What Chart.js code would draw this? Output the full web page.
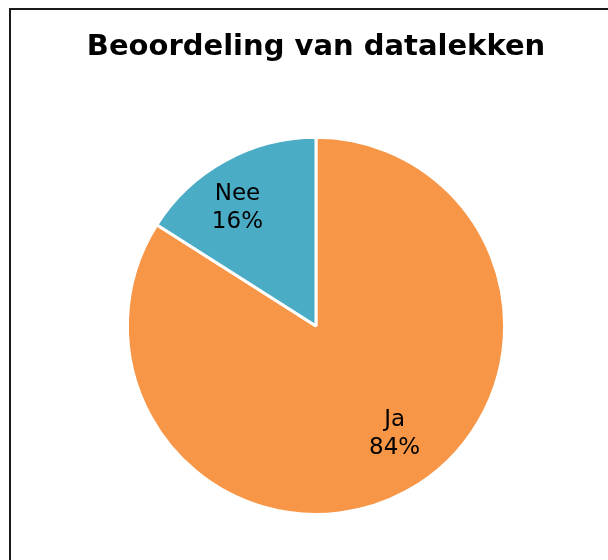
<!DOCTYPE html>
<html>
<head>
<meta charset="utf-8">
<script src="https://cdn.jsdelivr.net/npm/chart.js@4.4.1/dist/chart.umd.min.js"></script>
<style>
  html, body { margin: 0; padding: 0; background: #fff; overflow: hidden; }
  #frame {
    position: absolute; left: 9px; top: 8px;
    width: 700px; height: 700px;
    border: 2px solid #1a1a1a;
    box-sizing: border-box;
  }
  #wrap { position: absolute; left: 0; top: 0; width: 608px; height: 560px; }
</style>
</head>
<body>
<div id="frame"></div>
<div id="wrap"><canvas id="chart" width="608" height="560"></canvas></div>
<script>
const categories = ["Ja", "Nee"];
const percentages = [84, 16];
const sliceColors = ["#F79646", "#4BACC6"];

// draws "Naam\nxx%" inside each slice
const sliceLabels = {
  id: "sliceLabels",
  afterDatasetsDraw(chart) {
    const ctx = chart.ctx;
    const meta = chart.getDatasetMeta(0);
    const shift = -6 * Math.PI / 180; // labels sit a bit counter-clockwise of the slice middle
    ctx.save();
    ctx.font = "23px 'DejaVu Sans', Verdana, sans-serif";
    ctx.fillStyle = "#000";
    ctx.textAlign = "center";
    ctx.textBaseline = "middle";
    meta.data.forEach((arc, i) => {
      const p = arc.getProps(["x", "y", "startAngle", "endAngle", "outerRadius"], true);
      const mid = (p.startAngle + p.endAngle) / 2 + shift;
      const r = p.outerRadius * 0.73;
      const x = p.x + Math.cos(mid) * r;
      const y = p.y + Math.sin(mid) * r - 5;
      ctx.fillText(categories[i], x, y - 14);
      ctx.fillText(percentages[i] + "%", x, y + 14);
    });
    ctx.restore();
  }
};

new Chart(document.getElementById("chart"), {
  type: "pie",
  data: {
    labels: categories,
    datasets: [{
      data: percentages,
      backgroundColor: sliceColors,
      borderColor: "#fff",
      borderWidth: 3
    }]
  },
  options: {
    responsive: false,
    animation: false,
    layout: { padding: { left: 24, right: 0, top: 0, bottom: 44 } },
    plugins: {
      legend: { display: false },
      tooltip: { enabled: false },
      title: {
        display: true,
        text: "Beoordeling van datalekken",
        color: "#000",
        font: { family: "'DejaVu Sans', Verdana, sans-serif", size: 29, weight: "bold", lineHeight: 1.2 },
        padding: { top: 30, bottom: 71 }
      }
    }
  },
  plugins: [sliceLabels]
});
</script>
</body>
</html>
